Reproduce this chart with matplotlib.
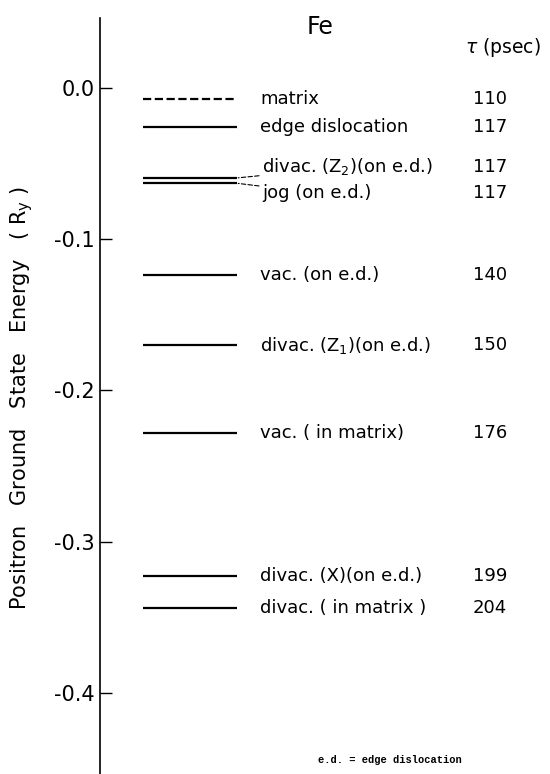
import matplotlib
matplotlib.use("Agg")
import matplotlib.pyplot as plt

# energy levels of the positron ground state in Fe (Ry)
levels = [-0.0075, -0.026, -0.0595, -0.063, -0.124, -0.170, -0.228, -0.323, -0.344]
names = ["matrix", "edge dislocation", "divac. (Z$_2$)(on e.d.)", "jog (on e.d.)",
         "vac. (on e.d.)", "divac. (Z$_1$)(on e.d.)", "vac. ( in matrix)",
         "divac. (X)(on e.d.)", "divac. ( in matrix )"]
tau = [110, 117, 117, 117, 140, 150, 176, 199, 204]
yticks = [0.0, -0.1, -0.2, -0.3, -0.4]
yticklabels = ["0.0", "-0.1", "-0.2", "-0.3", "-0.4"]

fig = plt.figure(figsize=(5.5, 7.74), dpi=100)
ax = fig.add_axes([100 / 550, 0, 450 / 550, 756 / 774])
ax.set_xlim(0, 1)
ax.set_ylim(-0.4537, 0.0463)

# labels of the two nearly coincident levels are pushed apart (points)
shift = {2: 8, 3: -7}

for i, (e, name, t) in enumerate(zip(levels, names, tau)):
    ls = "--" if i == 0 else "-"
    ax.hlines(e, 0.096, 0.304, colors="black", linewidth=1.6, linestyles=ls)
    dy = shift.get(i, 0)
    if dy:
        ax.annotate(name, xy=(0.304, e), xytext=(18, dy), textcoords="offset points",
                    fontsize=13, va="center", ha="left",
                    arrowprops=dict(arrowstyle="-", linestyle=(0, (4, 2)), linewidth=0.8,
                                    shrinkA=0, shrinkB=1, color="black"))
    else:
        ax.text(0.356, e, name, fontsize=13, va="center", ha="left")
    ax.annotate(str(t), xy=(0.867, e), xytext=(0, dy), textcoords="offset points",
                fontsize=13, va="center", ha="center")

fig.text(320 / 550, 0.98, "Fe", fontsize=17, ha="center", va="top")
fig.text(465 / 550, 0.938, r"$\tau$ (psec)", fontsize=13.5, ha="left", va="center")
fig.text(390 / 550, 0.018, "e.d. = edge dislocation", fontsize=7.5,
         family="Liberation Mono", weight="bold", ha="center", va="center")

for side in ["top", "right", "bottom"]:
    ax.spines[side].set_visible(False)
ax.spines["left"].set_linewidth(1.2)
ax.set_xticks([])
ax.set_yticks(yticks)
ax.set_yticklabels(yticklabels)
ax.tick_params(axis="y", direction="in", length=8.5, width=1, labelsize=15, pad=4)
ax.set_ylabel("Positron   Ground   State   Energy   ( R$_\\mathregular{y}$ )", fontsize=15)
ax.yaxis.set_label_coords(-0.145, 0.497)

fig.savefig("out.png", dpi=100)
